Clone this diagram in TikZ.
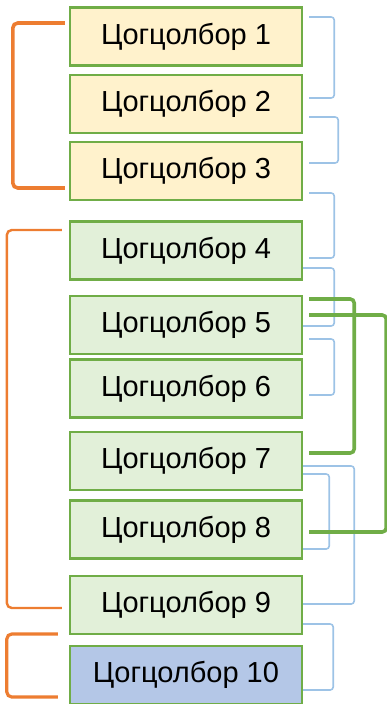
\documentclass[tikz,border=0pt]{standalone}
\usepackage{fontspec}
\setmainfont{Liberation Sans}
\definecolor{boxyellow}{HTML}{FFF2CC}
\definecolor{boxgreen}{HTML}{E2F0D9}
\definecolor{boxblue}{HTML}{B4C7E7}
\definecolor{linegreen}{HTML}{70AD47}
\definecolor{lineblue}{HTML}{9DC3E6}
\definecolor{lineorange}{HTML}{ED7D31}
\tikzset{
  group/.style={draw=linegreen, line width=2.4pt, minimum width=232pt, minimum height=58pt,
    inner sep=0pt, font=\fontsize{29}{32}\selectfont},
  bluebr/.style={draw=lineblue, line width=1.6pt, rounded corners=3pt},
  greenbr/.style={draw=linegreen, line width=3.6pt, rounded corners=4pt},
  orangebr/.style={draw=lineorange, line width=3.6pt, rounded corners=5pt}
}
\begin{document}
\begin{tikzpicture}[x=1pt, y=-1pt]
        \useasboundingbox (0,0) rectangle (387,704);
        % boxes
        \node[group, fill=boxyellow] (b1) at (186,36.5) {Цогцолбор 1};
        \node[group, fill=boxyellow] (b2) at (186,104) {Цогцолбор 2};
        \node[group, fill=boxyellow] (b3) at (186,171) {Цогцолбор 3};
        \node[group, fill=boxgreen] (b4) at (186,250.5) {Цогцолбор 4};
        \node[group, fill=boxgreen] (b5) at (186,325) {Цогцолбор 5};
        \node[group, fill=boxgreen] (b6) at (186,388.5) {Цогцолбор 6};
        \node[group, fill=boxgreen] (b7) at (186,461) {Цогцолбор 7};
        \node[group, fill=boxgreen] (b8) at (186,529.5) {Цогцолбор 8};
        \node[group, fill=boxgreen] (b9) at (186,605) {Цогцолбор 9};
        \node[group, fill=boxblue] (b10) at (186,675) {Цогцолбор 10};
        % left brackets
        \draw[orangebr] ([xshift=-4pt,yshift=13.5pt]b1.west) -- ++(-52,0) |- ([xshift=-4pt,yshift=-17pt]b3.west);
        \draw[orangebr, line width=2.4pt] ([xshift=-7pt,yshift=20.5pt]b4.west) -- ++(-55,0) |- ([xshift=-7pt,yshift=-3pt]b9.west);
        \draw[orangebr, line width=3.2pt] ([xshift=-11pt,yshift=41pt]b10.west) -- ++(-51,0) |- ([xshift=-11pt,yshift=-22pt]b10.west);
        % right brackets
        \draw[bluebr] ([xshift=6pt,yshift=19.5pt]b1.east) -- ++(25,0) |- ([xshift=6pt,yshift=6pt]b2.east);
        \draw[bluebr] ([xshift=6pt,yshift=-13pt]b2.east) -- ++(29,0) |- ([xshift=6pt,yshift=8pt]b3.east);
        \draw[bluebr] ([xshift=6pt,yshift=-22pt]b3.east) -- ++(25,0) |- ([xshift=6pt,yshift=-7.5pt]b4.east);
        \draw[bluebr] ([yshift=-17.5pt]b4.east) -- ++(31,0) |- ([yshift=-1pt]b5.east);
        \draw[bluebr] ([xshift=6pt,yshift=-14pt]b5.east) -- ++(25,0) |- ([xshift=6pt,yshift=-6.5pt]b6.east);
        \draw[bluebr] ([yshift=-5pt]b7.east) -- ++(51,0) |- ([yshift=1pt]b9.east);
        \draw[bluebr] ([yshift=-13pt]b7.east) -- ++(26,0) |- ([yshift=-19.5pt]b8.east);
        \draw[bluebr] ([yshift=-19pt]b9.east) -- ++(30,0) |- ([yshift=-15pt]b10.east);
        \draw[greenbr] ([xshift=6pt,yshift=26pt]b5.east) -- ++(45,0) |- ([xshift=6pt,yshift=8pt]b7.east);
        \draw[greenbr] ([xshift=6pt,yshift=10pt]b5.east) -- ++(77,0) |- ([xshift=6pt,yshift=-2.5pt]b8.east);
      \end{tikzpicture}
\end{document}
